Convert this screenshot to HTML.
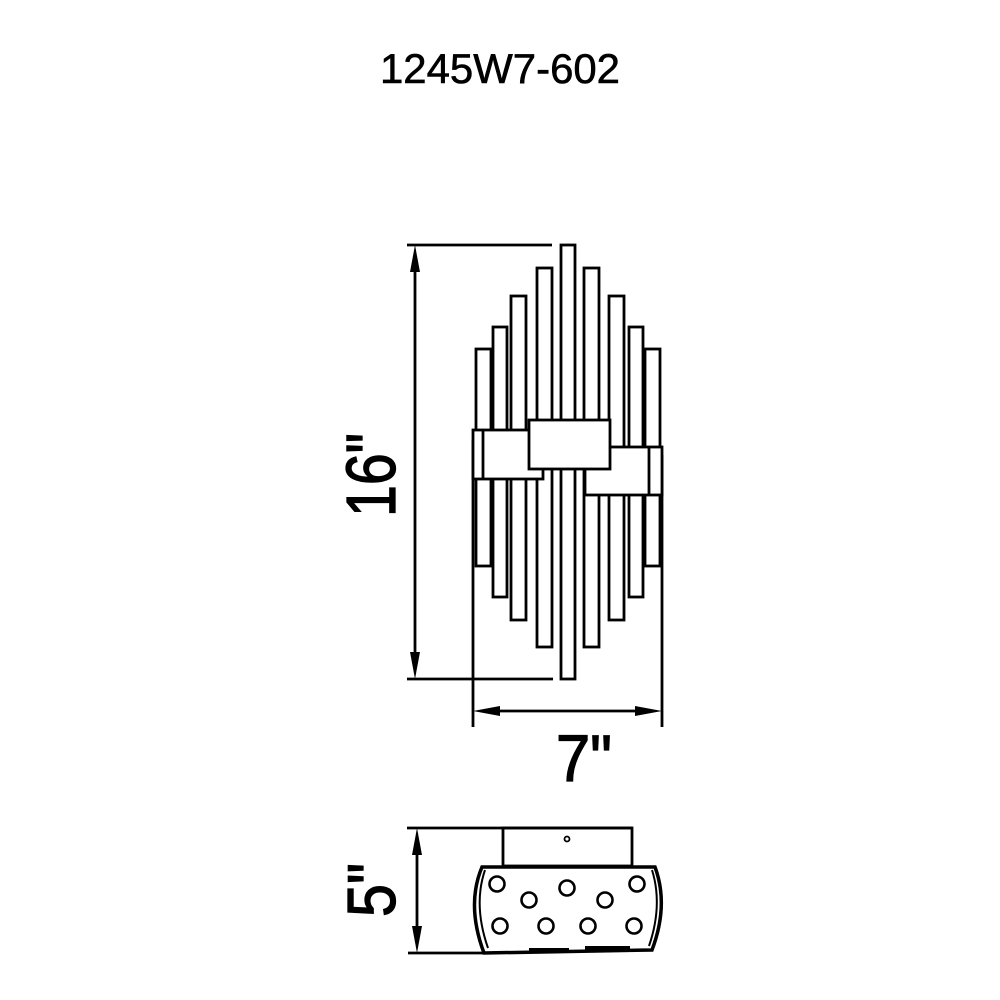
<!DOCTYPE html>
<html><head><meta charset="utf-8"><style>
html,body{margin:0;padding:0;background:#fff;}
svg{display:block;}
text{font-family:"Liberation Sans",Arial,sans-serif;fill:#000;}
</style></head><body>
<svg width="1000" height="1000" viewBox="0 0 1000 1000" xmlns="http://www.w3.org/2000/svg">
<text x="500" y="83" font-size="42" text-anchor="middle" textLength="240" lengthAdjust="spacingAndGlyphs" stroke="#000" stroke-width="0.6">1245W7-602</text>

<g fill="none" stroke="#000" stroke-width="2.8">
<line x1="407" y1="245" x2="552" y2="245"/>
<line x1="407" y1="679" x2="553" y2="679"/>
<line x1="415" y1="262" x2="415" y2="662"/>
<line x1="473" y1="440" x2="473" y2="727"/>
<line x1="662" y1="455" x2="662" y2="727"/>
<line x1="490" y1="711" x2="645" y2="711"/>
<rect x="476" y="349" width="15" height="217" fill="#fff"/>
<rect x="493" y="327" width="14" height="270" fill="#fff"/>
<rect x="511" y="296" width="15" height="324" fill="#fff"/>
<rect x="537" y="268" width="15" height="379" fill="#fff"/>
<rect x="561" y="245" width="14" height="434" fill="#fff"/>
<rect x="584" y="268" width="15" height="379" fill="#fff"/>
<rect x="609" y="296" width="15" height="324" fill="#fff"/>
<rect x="629" y="327" width="14" height="270" fill="#fff"/>
<rect x="645" y="349" width="15" height="217" fill="#fff"/>
<rect x="585" y="447" width="77" height="48" fill="#fff"/>
<line x1="649" y1="447" x2="649" y2="495"/>
<rect x="473" y="430" width="70" height="49" fill="#fff"/>
<line x1="483" y1="430" x2="483" y2="479"/>
<rect x="529" y="420" width="81" height="49" fill="#fff"/>
</g>
<g fill="#000">
<polygon points="415,245 410,272 420,272"/>
<polygon points="415,679 410,652 420,652"/>
<polygon points="473,711 500,706 500,716"/>
<polygon points="662,711 635,706 635,716"/>
</g>
<text x="584" y="781" font-size="66" text-anchor="middle" textLength="56" lengthAdjust="spacingAndGlyphs" stroke="#000" stroke-width="1.3">7"</text>
<text transform="translate(395,475) rotate(-90)" x="0" y="0" font-size="70" text-anchor="middle" textLength="84" lengthAdjust="spacingAndGlyphs" stroke="#000" stroke-width="1.3">16"</text>
<text transform="translate(395,890) rotate(-90)" x="0" y="0" font-size="68" text-anchor="middle" textLength="54" lengthAdjust="spacingAndGlyphs" stroke="#000" stroke-width="1.3">5"</text>

<g fill="none" stroke="#000" stroke-width="2.8">
<line x1="407" y1="828" x2="632" y2="828"/>
<line x1="417" y1="845" x2="417" y2="936"/>
<line x1="408" y1="953" x2="485" y2="953"/>
<rect x="503" y="828" width="129" height="38"/>
<circle cx="567" cy="839" r="2.5" stroke-width="1.8"/>
<path d="M482,867 L655,867 Q669,905 652,950 L484,953 Q466,905 482,867 Z" stroke-width="3.5" fill="#fff"/>
<path d="M485,870 Q473,905 488,948" stroke-width="2"/>
<path d="M652,870 Q663,905 649,946" stroke-width="2"/>
<g stroke-width="2.6">
<circle cx="497" cy="884" r="7.5"/><circle cx="529" cy="900" r="7.5"/><circle cx="567" cy="888" r="7.5"/>
<circle cx="605" cy="900" r="7.5"/><circle cx="637" cy="884" r="7.5"/>
<circle cx="500" cy="926" r="7.5"/><circle cx="546" cy="926" r="7.5"/><circle cx="588" cy="926" r="7.5"/><circle cx="634" cy="926" r="7.5"/>
</g>
</g>
<rect x="529" y="948" width="40" height="4" fill="#000"/>
<rect x="585" y="946" width="45" height="4" fill="#000"/>
<g fill="#000">
<polygon points="417,828 412,855 422,855"/>
<polygon points="417,953 412,926 422,926"/>
</g>
</svg>
</body></html>
